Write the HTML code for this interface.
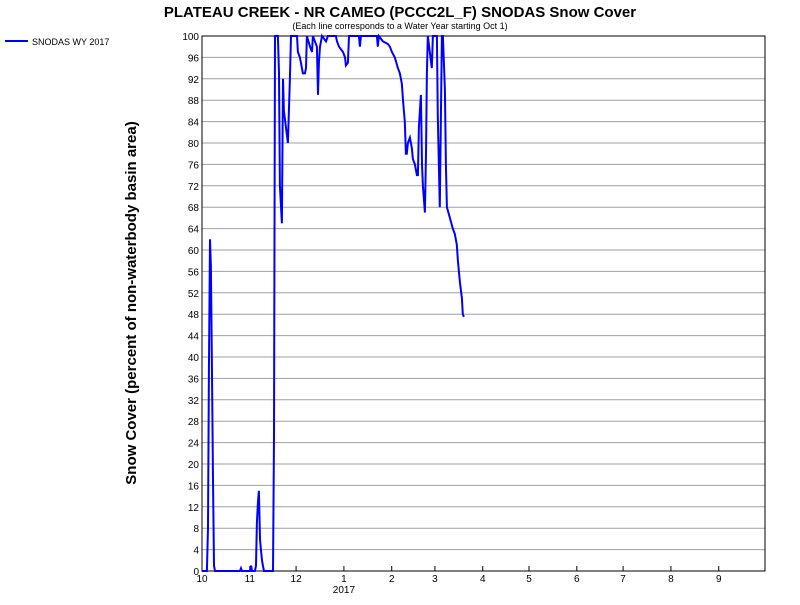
<!DOCTYPE html>
<html><head><meta charset="utf-8"><style>
body{margin:0;background:#fff;font-family:"Liberation Sans",Arial,sans-serif}
</style></head><body>
<svg width="800" height="600" xmlns="http://www.w3.org/2000/svg">
<rect width="800" height="600" fill="#fff"/>
<text x="400" y="17" text-anchor="middle" font-size="15" font-weight="bold" font-family="Liberation Sans, sans-serif">PLATEAU CREEK - NR CAMEO (PCCC2L_F) SNODAS Snow Cover</text>
<text x="400" y="29" text-anchor="middle" font-size="9" font-family="Liberation Sans, sans-serif">(Each line corresponds to a Water Year starting Oct 1)</text>
<g>
<line x1="5" y1="41" x2="28" y2="41" stroke="#0000ff" stroke-width="2"/>
<text x="32" y="45" font-size="9" font-family="Liberation Sans, sans-serif">SNODAS WY 2017</text>
</g>
<text transform="translate(136,303) rotate(-90)" text-anchor="middle" font-size="15" font-weight="bold" font-family="Liberation Sans, sans-serif">Snow Cover (percent of non-waterbody basin area)</text>
<g id="grid"></g>
<g id="axes"></g>
<g id="series"></g>
</svg>
<script>
const days=[0,3.2,3.9,4.5,5.2,5.8,6.5,7.1,7.8,8.4,24.6,25.3,25.9,31.1,31.8,32.4,34.3,35,35.6,36.3,36.9,37.6,38.2,38.9,39.5,40.2,46,46.7,47.3,49.2,49.9,50.5,51.8,52.5,53.1,54.4,55.7,57,57.7,61.6,62.2,63.5,65.4,66.7,67.4,68,70,71.3,71.9,74.5,75.2,75.8,76.5,77.8,80.4,81.6,86.8,87.5,88.8,90.1,91.4,92.7,93.3,94.6,95.3,101.7,102.4,103,113.4,114,114.7,117.3,120.5,121.8,123.1,125,127,128.3,129.6,130.3,131.5,132.2,132.8,133.5,134.8,136.1,136.7,138,139.3,140,140.6,141.9,142.6,143.2,144.5,145.2,145.8,146.4,147.7,149,149.7,152.3,152.9,154.2,155.5,156.2,157.5,158.1,158.8,160.7,162.6,163.9,165.2,165.9,167.2,168.5,169.1,169.8];
const snowCover=[0,0,8,37,62,57,37,17,1,0,0,0.5,0,0,1,0,0,1,9,13,15,6,4,2,1,0,0,25,100,100,93,72,65,92,86,83,80,92,100,100,97,96,93,93,94,100,98,97,100,98,89,95,98,100,99,100,100,99,98,97.5,97,96,94.5,95,100,100,98,100,100,98,100,99,98.5,98,97,96,94,93,91,88,84,78,78,80,81,79,77,76,74,74,83,89,76,72,67,78,93,100,97,94,100,100,85,68,100,100,90,76,68,66,64,63,61,58,54,51,48,47.5];
const yTicks=[0,4,8,12,16,20,24,28,32,36,40,44,48,52,56,60,64,68,72,76,80,84,88,92,96,100];
const monthLabels=["10","11","12","1","2","3","4","5","6","7","8","9"];
const monthStartDays=[0,31,61,92,123,151,182,212,243,273,304,335];
const X0=202,X1=765,Y0=571,Y1=36,NDAYS=365;
const xs=d=>X0+d*(X1-X0)/NDAYS;
const ys=v=>Y0-v*(Y0-Y1)/100;
const NS="http://www.w3.org/2000/svg";
function mk(tag,attrs,parent){const e=document.createElementNS(NS,tag);for(const k in attrs)e.setAttribute(k,attrs[k]);document.getElementById(parent).appendChild(e);return e;}
yTicks.forEach(v=>{
  const l=mk('line',{x1:X0,x2:X1,y1:ys(v),y2:ys(v),stroke:'#a0a0a0','stroke-width':1},'grid');
  
  
  const t=mk('text',{x:X0-3,y:ys(v)+4,'text-anchor':'end','font-size':10,'font-family':'Liberation Sans, sans-serif'},'axes');
  t.textContent=v;
  
  
});
const fr=mk('rect',{x:X0,y:Y1,width:X1-X0,height:Y0-Y1,fill:'none',stroke:'#000','stroke-width':1},'axes');


monthLabels.forEach((m,i)=>{
  const x=xs(monthStartDays[i]);
  const tk=mk('line',{x1:x,x2:x,y1:Y0,y2:Y0-5,stroke:'#000'},'axes');
  
  
  const t=mk('text',{x:x,y:Y0+11,'text-anchor':'middle','font-size':10,'font-family':'Liberation Sans, sans-serif'},'axes');
  t.textContent=m;
  
  
});
const yr=mk('text',{x:xs(92),y:Y0+22,'text-anchor':'middle','font-size':10,'font-family':'Liberation Sans, sans-serif'},'axes');
yr.textContent='2017';


const pts=days.map((d,i)=>xs(d).toFixed(1)+','+ys(snowCover[i]).toFixed(1)).join(' ');
const pl=mk('polyline',{points:pts,fill:'none',stroke:'#0000ff','stroke-width':2},'series');


</script>
</body></html>
